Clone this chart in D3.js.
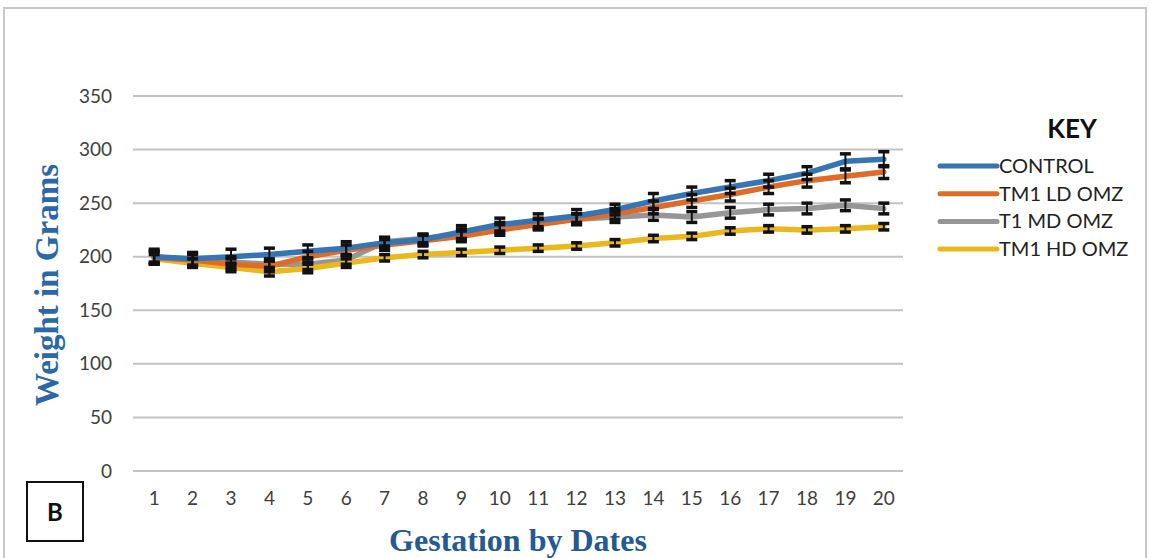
<!DOCTYPE html>
<html>
<head>
<meta charset="utf-8">
<script src="https://cdn.jsdelivr.net/npm/d3@7"></script>
<style>
  body { margin: 0; background: #fff; }
  svg { display: block; }
</style>
</head>
<body>
<script>
// gestation days on the x axis
var days = d3.range(1, 21);
var yTicks = [0, 50, 100, 150, 200, 250, 300, 350];

// series values (grams)
var control = [200,198,200,202,205,208,213,216,223,230,234,238,244,252,259,265,271,278,289,291];
var tm1Ld   = [199,197,193,191,200,206,211,215,219,225,230,235,240,246,252,258,265,271,275,279];
var t1Md    = [200,197,195,193,193,197,214,217,221,227,231,235,237,239,237,241,244,245,248,245];
var tm1Hd   = [198,194,190,186,189,194,199,202,204,206,208,210,213,217,219,224,226,225,226,228];

// error bar half sizes
var controlErr = [7,6,7,6,6,6,5,5,6,6,6,6,5,7,6,6,6,6,7,7];
var tm1LdErr   = [6,6,5,5,5,5,5,5,5,5,5,5,5,6,6,6,6,6,6,6];
var t1MdErr    = [5,5,5,5,5,4,4,4,5,5,5,5,5,5,5,5,5,5,5,5];
var tm1HdErr   = [4,4,4,4,4,4,3,3,3,3,3,3,3,3,3,3,3,3,3,3];

var seriesNames = ["CONTROL", "TM1 LD OMZ", "T1 MD OMZ", "TM1 HD OMZ"];
var seriesColors = ["#3574b5", "#de6b28", "#969696", "#ebb81c"];

function init(){
    var w = 1150;
    var h = 558;

    var svg = d3.select("body").append("svg")
        .attr("width", w)
        .attr("height", h);

    // outer frame
    svg.append("rect")
        .attr("x", 4).attr("y", 8)
        .attr("width", 1142).attr("height", 560)
        .attr("fill", "none")
        .attr("stroke", "#c9c9c9")
        .attr("stroke-width", 2);

    var x = d3.scaleBand()
        .domain(days)
        .range([135, 903]);

    var y = d3.scaleLinear()
        .domain([0, 350])
        .range([471, 96]);

    // grid lines
    svg.append("g").selectAll("line")
        .data(yTicks)
        .enter().append("line")
        .attr("x1", 133).attr("x2", 903)
        .attr("y1", function(d){ return y(d); })
        .attr("y2", function(d){ return y(d); })
        .attr("stroke", "#c3c3c3")
        .attr("stroke-width", 2);

    // y axis labels
    var yAxis = d3.axisLeft(y).tickValues(yTicks).tickSize(0).tickPadding(0);
    var gy = svg.append("g")
        .attr("transform", "translate(112,0)")
        .call(yAxis);
    gy.select(".domain").remove();
    gy.selectAll("text")
        .attr("font-family", "Lato, 'Open Sans', sans-serif")
        .attr("font-size", 19)
        .attr("fill", "#404040");

    // x axis labels
    var xAxis = d3.axisBottom(x).tickSize(0).tickPadding(0);
    var gx = svg.append("g")
        .attr("transform", "translate(0,491)")
        .call(xAxis);
    gx.select(".domain").remove();
    gx.selectAll("text")
        .attr("font-family", "Lato, 'Open Sans', sans-serif")
        .attr("font-size", 19)
        .attr("fill", "#404040");

    var line = d3.line()
        .x(function(d, i){ return x(days[i]) + x.bandwidth() / 2; })
        .y(function(d){ return y(d); });

    var allSeries = [control, tm1Ld, t1Md, tm1Hd];
    var allErr = [controlErr, tm1LdErr, t1MdErr, tm1HdErr];

    // draw order: gray, gold, orange, blue
    var order = [2, 3, 1, 0];
    order.forEach(function(k){
        svg.append("path")
            .datum(allSeries[k])
            .attr("d", line)
            .attr("fill", "none")
            .attr("stroke", seriesColors[k])
            .attr("stroke-width", 5.5)
            .attr("stroke-linejoin", "round")
            .attr("stroke-linecap", "round");
    });

    // error bars
    allSeries.forEach(function(vals, k){
        var g = svg.append("g")
            .attr("stroke", "#111")
            .attr("stroke-width", 2);
        vals.forEach(function(v, i){
            var cx = x(days[i]) + x.bandwidth() / 2;
            var e = allErr[k][i];
            g.append("line")
                .attr("x1", cx).attr("x2", cx)
                .attr("y1", y(v + e)).attr("y2", y(v - e));
            g.append("line")
                .attr("x1", cx - 5.5).attr("x2", cx + 5.5)
                .attr("y1", y(v + e)).attr("y2", y(v + e))
                .attr("stroke-width", 3.5);
            g.append("line")
                .attr("x1", cx - 5.5).attr("x2", cx + 5.5)
                .attr("y1", y(v - e)).attr("y2", y(v - e))
                .attr("stroke-width", 3.5);
        });
    });

    // axis titles
    svg.append("text")
        .attr("x", 518).attr("y", 551)
        .attr("text-anchor", "middle")
        .attr("font-family", "'Liberation Serif', 'DejaVu Serif', serif")
        .attr("font-weight", "bold")
        .attr("font-size", 32)
        .attr("fill", "#235a92")
        .text("Gestation by Dates");

    svg.append("text")
        .attr("transform", "translate(58,285) rotate(-90)")
        .attr("text-anchor", "middle")
        .attr("font-family", "'Liberation Serif', 'DejaVu Serif', serif")
        .attr("font-weight", "bold")
        .attr("font-size", 33)
        .attr("fill", "#2a68a8")
        .text("Weight in Grams");

    // legend
    svg.append("text")
        .attr("x", 1072).attr("y", 138)
        .attr("text-anchor", "middle")
        .attr("font-family", "Lato, 'Open Sans', sans-serif")
        .attr("font-weight", "bold")
        .attr("font-size", 26)
        .attr("fill", "#111")
        .text("KEY");

    var leg = svg.append("g").selectAll("g")
        .data(seriesNames)
        .enter().append("g")
        .attr("transform", function(d, i){ return "translate(0," + (166 + i * 27.7) + ")"; });
    leg.append("line")
        .attr("x1", 940).attr("x2", 997)
        .attr("stroke", function(d, i){ return seriesColors[i]; })
        .attr("stroke-width", 5)
        .attr("stroke-linecap", "round");
    leg.append("text")
        .attr("x", 999).attr("dy", "0.35em")
        .attr("font-family", "Lato, 'Open Sans', sans-serif")
        .attr("font-size", 20)
        .attr("fill", "#222")
        .text(function(d){ return d; });

    // panel letter
    svg.append("rect")
        .attr("x", 27).attr("y", 482)
        .attr("width", 56).attr("height", 59)
        .attr("fill", "#fff")
        .attr("stroke", "#111")
        .attr("stroke-width", 2);
    svg.append("text")
        .attr("x", 55).attr("y", 521)
        .attr("text-anchor", "middle")
        .attr("font-family", "Lato, 'Open Sans', sans-serif")
        .attr("font-weight", "bold")
        .attr("font-size", 24)
        .attr("fill", "#111")
        .text("B");
}

window.onload = init;
</script>
</body>
</html>
